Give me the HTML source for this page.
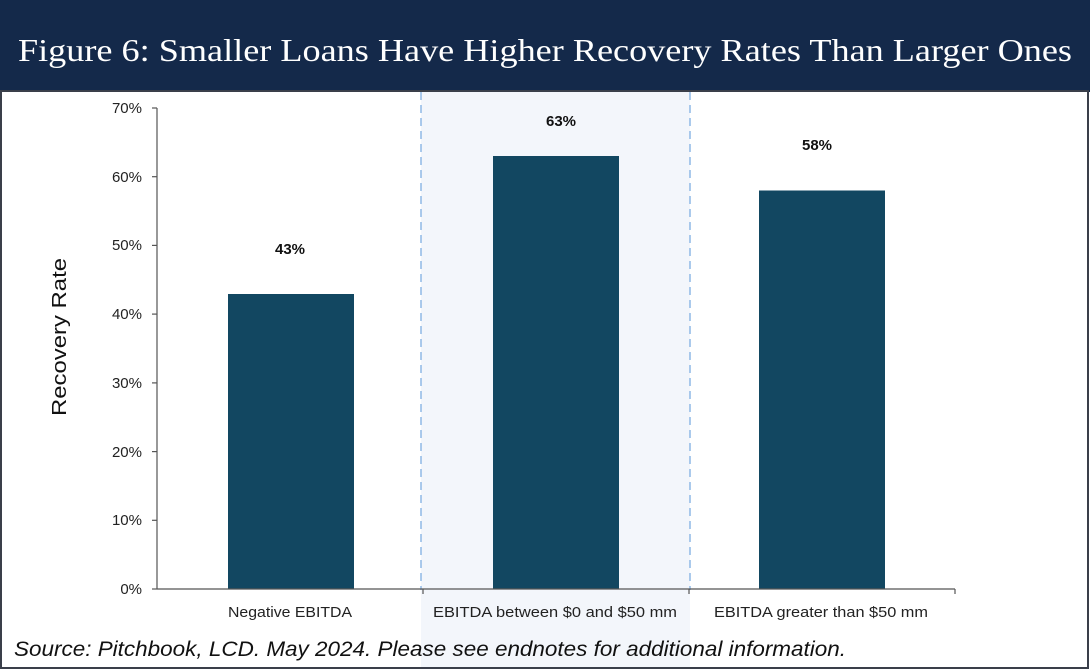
<!DOCTYPE html>
<html><head><meta charset="utf-8"><style>
body{margin:0;background:#fff}
svg{display:block}
</style></head><body>
<svg width="1090" height="670" xmlns="http://www.w3.org/2000/svg">
<rect x="0" y="0" width="1090" height="670" fill="#fff"/>
<rect x="421" y="92" width="269" height="576" fill="#f3f6fb"/>
<rect x="0" y="0" width="1090" height="92" fill="#14294a"/>
<text x="18" y="61" font-family="Liberation Serif, serif" font-size="32" fill="#fff" textLength="1054" lengthAdjust="spacingAndGlyphs">Figure 6: Smaller Loans Have Higher Recovery Rates Than Larger Ones</text>
<rect x="1" y="91" width="1087" height="577" fill="none" stroke="#3a3f4a" stroke-width="2"/>
<line x1="421" y1="92" x2="421" y2="590" stroke="#8fb8e6" stroke-width="1.5" stroke-dasharray="8,5"/>
<line x1="690" y1="92" x2="690" y2="590" stroke="#8fb8e6" stroke-width="1.5" stroke-dasharray="8,5"/>
<g fill="#124761">
<rect x="228" y="294" width="126" height="295"/>
<rect x="493" y="156" width="126" height="433"/>
<rect x="759" y="190.5" width="126" height="398.5"/>
</g>
<g stroke="#555" stroke-width="1.2" fill="none">
<line x1="157" y1="108" x2="157" y2="589"/>
<line x1="157" y1="589" x2="955" y2="589"/>
<line x1="152" y1="108" x2="157" y2="108"/>
<line x1="152" y1="176.7" x2="157" y2="176.7"/>
<line x1="152" y1="245.4" x2="157" y2="245.4"/>
<line x1="152" y1="314.1" x2="157" y2="314.1"/>
<line x1="152" y1="382.9" x2="157" y2="382.9"/>
<line x1="152" y1="451.6" x2="157" y2="451.6"/>
<line x1="152" y1="520.3" x2="157" y2="520.3"/>
<line x1="152" y1="589" x2="157" y2="589"/>
<line x1="423" y1="589" x2="423" y2="594"/>
<line x1="689" y1="589" x2="689" y2="594"/>
<line x1="955" y1="589" x2="955" y2="594"/>
</g>
<g font-family="Liberation Sans, sans-serif" font-size="15" fill="#222" text-anchor="end">
<text x="142" y="113">70%</text>
<text x="142" y="182">60%</text>
<text x="142" y="250">50%</text>
<text x="142" y="319">40%</text>
<text x="142" y="388">30%</text>
<text x="142" y="457">20%</text>
<text x="142" y="525">10%</text>
<text x="142" y="594">0%</text>
</g>
<g font-family="Liberation Sans, sans-serif" font-size="15" fill="#222" text-anchor="middle">
<text x="290" y="617" textLength="124" lengthAdjust="spacingAndGlyphs">Negative EBITDA</text>
<text x="555" y="617" textLength="244" lengthAdjust="spacingAndGlyphs">EBITDA between $0 and $50 mm</text>
<text x="821" y="617" textLength="214" lengthAdjust="spacingAndGlyphs">EBITDA greater than $50 mm</text>
</g>
<g font-family="Liberation Sans, sans-serif" font-size="15" font-weight="bold" fill="#111" text-anchor="middle">
<text x="290" y="254">43%</text>
<text x="561" y="126">63%</text>
<text x="817" y="150">58%</text>
</g>
<text transform="translate(66,337) rotate(-90)" font-family="Liberation Sans, sans-serif" font-size="20" fill="#111" text-anchor="middle" textLength="158" lengthAdjust="spacingAndGlyphs">Recovery Rate</text>
<text x="14" y="656" font-family="Liberation Sans, sans-serif" font-size="21" font-style="italic" fill="#111" textLength="832" lengthAdjust="spacingAndGlyphs">Source: Pitchbook, LCD. May 2024. Please see endnotes for additional information.</text>
</svg>
</body></html>
